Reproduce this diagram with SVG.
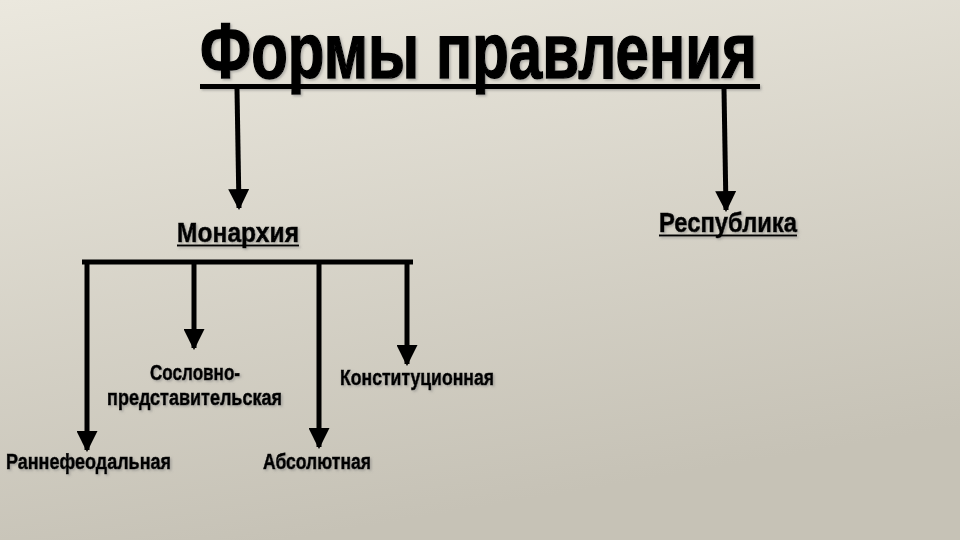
<svg xmlns="http://www.w3.org/2000/svg" width="960" height="540" viewBox="0 0 960 540">
  <defs>
    <linearGradient id="bg" x1="0" y1="0" x2="0.3" y2="1">
      <stop offset="0" stop-color="#ebe8de"/>
      <stop offset="1" stop-color="#c6c2b6"/>
    </linearGradient>
    <marker id="ah" viewBox="0 0 10 10" refX="9" refY="5" markerWidth="4.2" markerHeight="4.2" orient="auto" markerUnits="strokeWidth">
      <path d="M0,0 L10,5 L0,10 Z" fill="#000"/>
    </marker>
    <filter id="sh" x="-10%" y="-20%" width="120%" height="140%">
      <feDropShadow dx="1.5" dy="1.5" stdDeviation="0.8" flood-color="#777" flood-opacity="0.5"/>
    </filter>
  </defs>
  <style>
    text { font-family: "Liberation Sans", Arial, sans-serif; font-weight: bold; fill: #000; stroke: #000; stroke-width: 0.6px; }
    .t { font-size: 78px; stroke-width: 1.5px; }
    .m { font-size: 28px; }
    .s { font-size: 22px; }
    .ul { stroke: #000; }
    .c { stroke: #000; stroke-width: 5; fill: none; }
    .ca { stroke: #000; stroke-width: 5; fill: none; marker-end: url(#ah); }
  </style>
  <rect width="960" height="540" fill="url(#bg)"/>

  <g id="title" filter="url(#sh)">
    <text class="t" x="200" y="78" textLength="557" lengthAdjust="spacingAndGlyphs">Формы правления</text>
    <line class="ul" x1="200" y1="86.5" x2="760" y2="86.5" stroke-width="5"/>
  </g>

  <g id="monarchy" filter="url(#sh)">
    <text class="m" x="177" y="242" textLength="122" lengthAdjust="spacingAndGlyphs">Монархия</text>
    <line class="ul" x1="177" y1="245.5" x2="299" y2="245.5" stroke-width="2"/>
  </g>

  <g id="republic" filter="url(#sh)">
    <text class="m" x="659" y="232" textLength="138" lengthAdjust="spacingAndGlyphs">Республика</text>
    <line class="ul" x1="659" y1="235.5" x2="797" y2="235.5" stroke-width="2"/>
  </g>

  <g id="early-feudal" filter="url(#sh)">
    <text class="s" x="6" y="469" textLength="165" lengthAdjust="spacingAndGlyphs">Раннефеодальная</text>
  </g>

  <g id="estate-representative" filter="url(#sh)">
    <text class="s" x="150" y="380" textLength="90" lengthAdjust="spacingAndGlyphs">Сословно-</text>
    <text class="s" x="107" y="405" textLength="175" lengthAdjust="spacingAndGlyphs">представительская</text>
  </g>

  <g id="absolute" filter="url(#sh)">
    <text class="s" x="263" y="469" textLength="108" lengthAdjust="spacingAndGlyphs">Абсолютная</text>
  </g>

  <g id="constitutional" filter="url(#sh)">
    <text class="s" x="340" y="385" textLength="154" lengthAdjust="spacingAndGlyphs">Конституционная</text>
  </g>

  <g id="connectors">
    <line class="ca" x1="237" y1="89" x2="239" y2="208"/>
    <line class="ca" x1="724" y1="89" x2="726" y2="210"/>
    <line class="c" x1="82" y1="262" x2="413" y2="262" stroke-width="6"/>
    <line class="ca" x1="87" y1="262" x2="87" y2="450"/>
    <line class="ca" x1="194" y1="262" x2="194" y2="348"/>
    <line class="ca" x1="319" y1="262" x2="319" y2="447"/>
    <line class="ca" x1="407" y1="262" x2="407" y2="364"/>
  </g>
</svg>
